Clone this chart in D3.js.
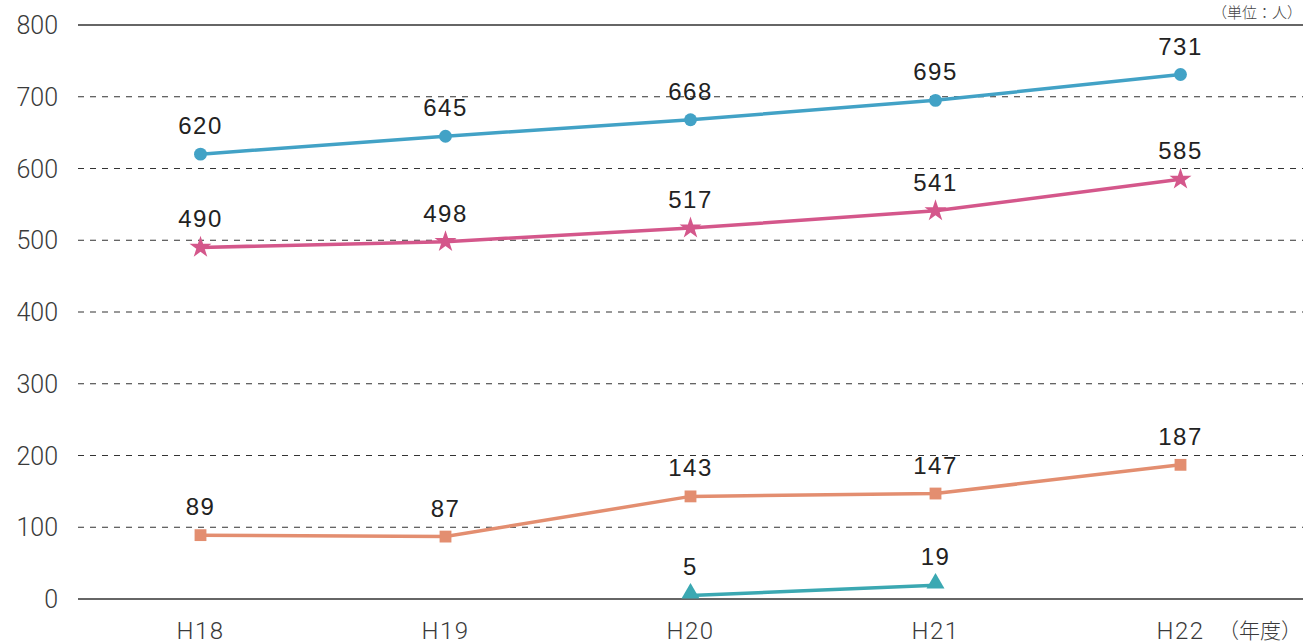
<!DOCTYPE html>
<html lang="ja">
<head>
<meta charset="UTF-8">
<title>推移</title>
<style>
  body{margin:0;background:#fff;font-family:'Liberation Sans','Noto Sans CJK JP',sans-serif}
  svg{display:block}
  .tick-y,.tick-x{font-family:Roboto,'Noto Sans CJK JP',sans-serif;fill:#3a3a3a;font-weight:300}
  .tick-y{font-size:25px}
  .tick-x{font-size:24px;letter-spacing:1.5px}
  .year{font-family:'Noto Sans CJK JP',sans-serif;font-size:21px;fill:#3a3a3a;font-weight:300}
  .val{font-size:24px;fill:#222;text-anchor:middle;letter-spacing:1.5px}
  .unit{font-family:'Noto Sans CJK JP',sans-serif;font-size:15px;fill:#444;font-weight:300}
</style>
</head>
<body>
<div id="chart"></div>
<script src="https://d3js.org/d3.v7.min.js"></script>
<script>
/* データ */
const years = ["H18","H19","H20","H21","H22"];
const yTicks = [0,100,200,300,400,500,600,700,800];
const seriesBlue   = [620,645,668,695,731];
const seriesPink   = [490,498,517,541,585];
const seriesOrange = [89,87,143,147,187];
const seriesTeal   = [null,null,5,19,null];

const W=1303,H=644;
const mLeft=78,mRight=1303,mTop=25,mBottom=599;

const svg=d3.select("#chart").append("svg").attr("width",W).attr("height",H);

const x=d3.scalePoint().domain(years).range([mLeft,mRight]).padding(0.5);
const y=d3.scaleLinear().domain([0,800]).range([mBottom,mTop]);

/* グリッド */
svg.append("g").selectAll("line").data(yTicks).join("line")
   .attr("x1",mLeft).attr("x2",mRight)
   .attr("y1",d=>y(d)).attr("y2",d=>y(d))
   .attr("stroke",d=>(d===0||d===800)?"#666":"#333")
   .attr("stroke-width",d=>(d===0||d===800)?2:1.2)
   .attr("stroke-dasharray",d=>(d===0||d===800)?null:"6,6");

svg.append("g").selectAll("text").data(yTicks).join("text")
   .attr("class","tick-y")
   .attr("x",58).attr("y",d=>y(d)+9)
   .attr("text-anchor","end").text(d=>d);

svg.append("g").selectAll("text").data(years).join("text")
   .attr("class","tick-x")
   .attr("x",d=>x(d)).attr("y",639)
   .attr("text-anchor","middle").text(d=>d);

svg.append("text").attr("class","year").attr("x",1302).attr("y",638)
   .attr("text-anchor","end").text("（年度）");
svg.append("text").attr("class","unit").attr("x",1302).attr("y",18)
   .attr("text-anchor","end").text("（単位：人）");

const series=[
  {vals:seriesBlue,  color:"#42a2c6",sym:d3.symbolCircle,  size:130},
  {vals:seriesPink,  color:"#d4578b",sym:d3.symbolStar,    size:150},
  {vals:seriesOrange,color:"#e38e70",sym:d3.symbolSquare,  size:140},
  {vals:seriesTeal,  color:"#3ba8b2",sym:d3.symbolTriangle,size:140}
];

const line=d3.line().defined(d=>d.v!=null).x(d=>x(d.k)).y(d=>y(d.v));

series.forEach(s=>{
  const pts=years.map((k,i)=>({k,v:s.vals[i]}));
  svg.append("path").datum(pts).attr("d",line)
     .attr("fill","none").attr("stroke",s.color).attr("stroke-width",3.5);
  const ok=pts.filter(d=>d.v!=null);
  svg.append("g").selectAll("path").data(ok).join("path")
     .attr("d",d3.symbol().type(s.sym).size(s.size))
     .attr("transform",d=>`translate(${x(d.k)},${y(d.v)+(s.sym===d3.symbolTriangle?-2:0)})`)
     .attr("fill",s.color);
  svg.append("g").selectAll("text").data(ok).join("text")
     .attr("class","val")
     .attr("x",d=>x(d.k)).attr("y",d=>y(d.v)-20)
     .text(d=>d.v);
});
</script>
</body>
</html>
